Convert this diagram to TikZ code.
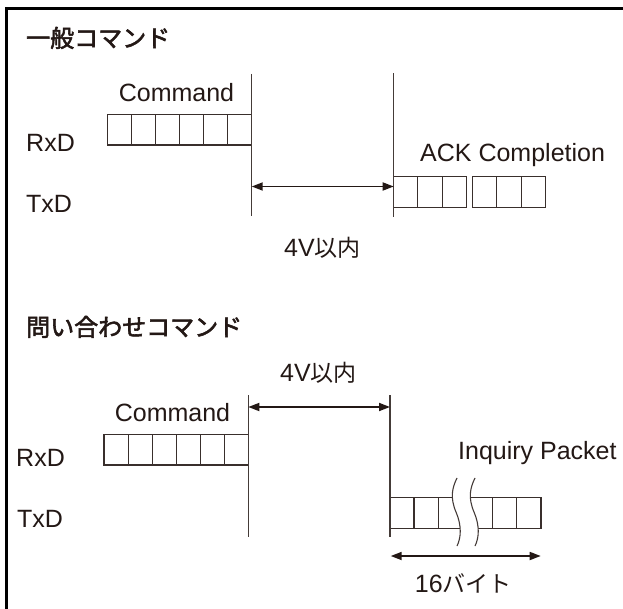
\documentclass[tikz,border=0pt]{standalone}
\usepackage{fontspec}
\setmainfont{Liberation Sans}
\newfontfamily\cjk{Noto Sans CJK JP}
\usetikzlibrary{arrows.meta}
\definecolor{ink}{RGB}{35,24,21}
\newcommand{\jtxt}[1]{{\cjk\fontsize{23}{25}\selectfont #1}}
\newcommand{\heavytxt}[1]{\special{pdf:literal direct 2 Tr 0.55 w}#1\special{pdf:literal direct 0 Tr}}
\begin{document}
\begin{tikzpicture}[x=1pt,y=-1pt,
  lbl/.style={inner sep=0pt, text=ink, font=\fontsize{25}{27}\selectfont},
  ttl/.style={inner sep=0pt, anchor=base west, text=ink, font=\cjk\fontsize{24}{26}\selectfont},
  cell/.style={draw=ink!90, line width=1.1pt},
  bar/.style={draw=ink!85, line width=1.1pt},
  dim/.style={draw=ink, line width=1.7pt, {Triangle[length=11pt,width=8pt]}-{Triangle[length=11pt,width=8pt]}},
  wave/.style={draw=ink!85, line width=1.1pt},
]
\useasboundingbox (0,0) rectangle (623,609);
\fill[white] (0,0) rectangle (623,609);
% frame (top and left only)
\draw[line width=3pt, draw=black] (6.7,609) -- (6.7,9) -- (623,9);

% ---------- Section 1 ----------
\node[ttl] (t1) at (26,47) {\heavytxt{一般コマンド}};
\node[lbl, anchor=base] (cmd1) at (176.5,102) {Command};
\node[lbl, anchor=base west] (rx1) at (26,152) {RxD};
\node[lbl, anchor=base west] (tx1) at (26,213) {TxD};
\node[lbl, anchor=base west] (ack) at (420,162) {ACK Completion};
\node[lbl, anchor=base] (d1) at (322.5,257) {4V\jtxt{以内}};

\foreach \i in {0,...,5}
  \draw[cell] (107.7+24*\i,114.3) rectangle ++(24,30.7);
\foreach \i in {0,1,2}
  \draw[cell] (393.7+24.2*\i,176.7) rectangle ++(24.2,31);
\foreach \i in {0,1,2}
  \draw[cell] (472.7+24.2*\i,176.7) rectangle ++(24.2,31);

\coordinate (b1t) at (251.7,74);
\coordinate (b1b) at (251.7,216);
\coordinate (b2t) at (393.7,73.3);
\coordinate (b2b) at (393.7,216.7);
\draw[bar] (b1t) -- (b1b);
\draw[bar] (b2t) -- (b2b);
\coordinate (a1l) at (251.7,186.5);
\coordinate (a1r) at (393.7,186.5);
\draw[dim] (a1l) -- (a1r);

% ---------- Section 2 ----------
\node[ttl] (t2) at (26,336) {\heavytxt{問い合わせコマンド}};
\node[lbl, anchor=base] (d2) at (318.5,381) {4V\jtxt{以内}};
\node[lbl, anchor=base] (cmd2) at (172.5,421) {Command};
\node[lbl, anchor=base west] (rx2) at (16,466) {RxD};
\node[lbl, anchor=base west] (tx2) at (17,527) {TxD};
\node[lbl, anchor=base west] (inq) at (458,459) {Inquiry Packet};
\node[lbl, anchor=base] (len) at (463.3,592) {16\jtxt{バイト}};

\foreach \i in {0,...,5}
  \draw[cell] (104+24.05*\i,434.3) rectangle ++(24.05,30.7);

% packet with break
\draw[cell] (390,497.3) rectangle (541,528.5);
\foreach \x in {414,438.3,492.7,516.7}
  \draw[cell] (\x,497.3) -- (\x,528.5);
\fill[white] (457,478) .. controls (452,488) and (450,498) .. (456,512)
  .. controls (462,526) and (461,538) .. (457,546)
  -- (475,546) .. controls (479,538) and (480,526) .. (474,512)
  .. controls (468,498) and (470,488) .. (475,478) -- cycle;
\draw[wave] (457,478) .. controls (452,488) and (450,498) .. (456,512)
  .. controls (462,526) and (461,538) .. (457,546);
\draw[wave] (475,478) .. controls (470,488) and (468,498) .. (474,512)
  .. controls (480,526) and (479,538) .. (475,546);

\coordinate (b3t) at (248.3,395);
\coordinate (b3b) at (248.3,537);
\coordinate (b4t) at (390,395);
\coordinate (b4b) at (390,537);
\draw[bar] (b3t) -- (b3b);
\draw[bar] (b4t) -- (b4b);
\coordinate (a2l) at (248.3,407);
\coordinate (a2r) at (390,407);
\draw[dim] (a2l) -- (a2r);
\coordinate (a3l) at (390.7,556);
\coordinate (a3r) at (540.7,556);
\draw[dim] (a3l) -- (a3r);
\end{tikzpicture}
\end{document}
